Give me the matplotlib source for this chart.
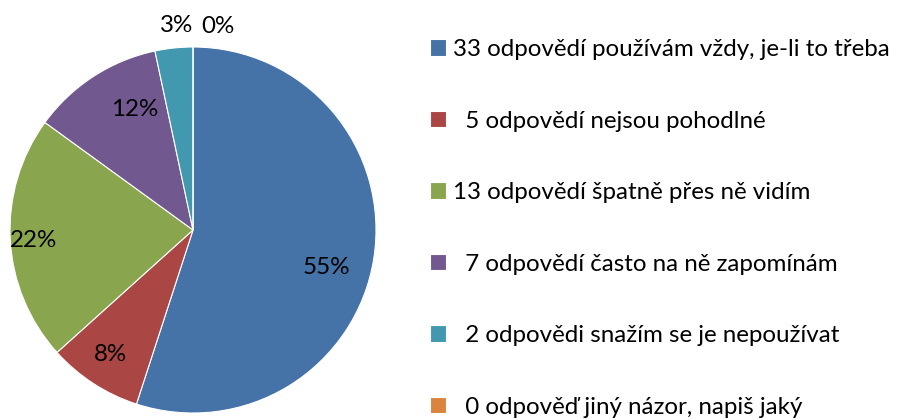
import matplotlib
matplotlib.use("Agg")
import matplotlib.pyplot as plt
import numpy as np

counts = [33, 5, 13, 7, 2, 0]
labels = ["33 odpovědí používám vždy, je-li to třeba",
          "  5 odpovědí nejsou pohodlné",
          "13 odpovědí špatně přes ně vidím",
          "  7 odpovědí často na ně zapomínám",
          "  2 odpovědi snažím se je nepoužívat",
          "  0 odpověď jiný názor, napiš jaký"]
colors = ["#4572A7", "#AA4643", "#89A54E", "#71588F", "#4198AF", "#DB843D"]

# label placement styling (radius factor, angle offset in degrees)
lab_r = [0.76, 0.82, 0.875, 0.73, 1.12, 1.12]
lab_da = [-6.8, -0.6, 0.6, -7.2, -1.3, -7.0]

plt.rcParams['font.family'] = ['Lato', 'DejaVu Sans']
W, H = 901, 419
fig = plt.figure(figsize=(W/100, H/100), dpi=100)
ax = fig.add_axes([10/W, 6/H, 366/W, 366/H])
wedges, _ = ax.pie(counts, colors=colors, startangle=90, counterclock=False,
                   radius=1, wedgeprops=dict(edgecolor='white', linewidth=0.8))
ax.set_xlim(-1, 1)
ax.set_ylim(-1, 1)
ax.set_aspect('equal')
ax.axis('off')

total = sum(counts)
fs = 17.4
for w, c, r, da in zip(wedges, counts, lab_r, lab_da):
    mid = (w.theta1 + w.theta2) / 2 + da
    x, y = r*np.cos(np.radians(mid)), r*np.sin(np.radians(mid))
    ax.text(x, y, f"{round(100*c/total)}%", ha='center', va='center',
            fontsize=fs, color='black', clip_on=False)

leg = fig.legend(wedges, labels, loc='upper left', bbox_to_anchor=(430/W, 1-39/H),
                 frameon=False, fontsize=fs, handlelength=0.66, handleheight=0.66,
                 handletextpad=0.28, labelspacing=2.09, borderaxespad=0, borderpad=0)
fig.savefig("out.png", dpi=100)
